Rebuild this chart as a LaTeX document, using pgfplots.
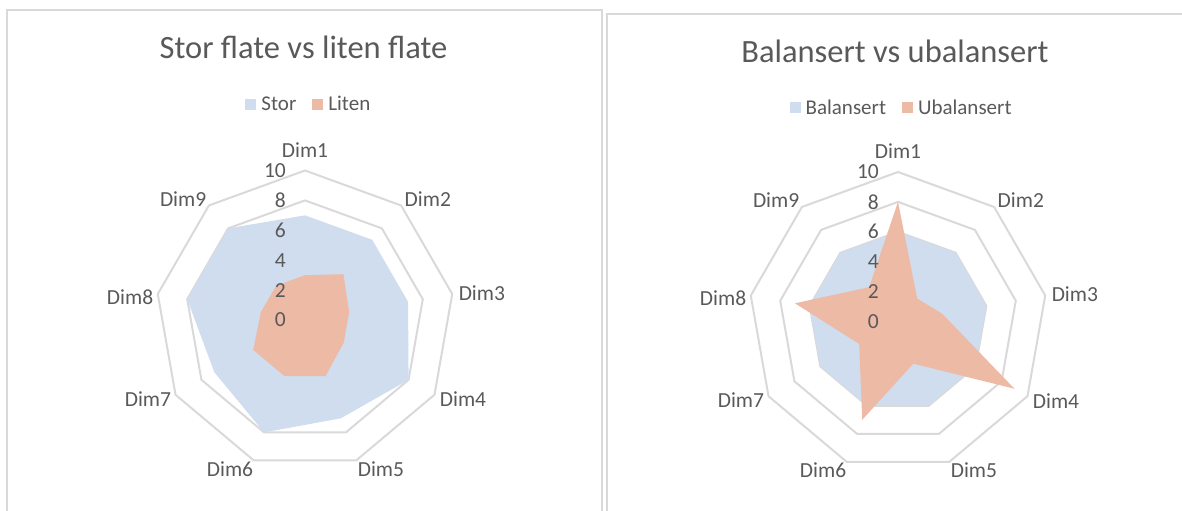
\documentclass[border=0pt]{standalone}
\usepackage{fontspec}
\setmainfont{Carlito}
\usepackage{pgfplots}
\pgfplotsset{compat=1.18}
\usepgfplotslibrary{polar}
\definecolor{gridc}{HTML}{D9D9D9}
\definecolor{txt}{HTML}{595959}
\definecolor{bl}{RGB}{207,221,238}
\definecolor{orc}{RGB}{237,186,166}

\pgfplotsset{radar/.style={
  scale only axis, width=299bp, height=299bp,
  xmin=0, xmax=360, ymin=0, ymax=10,
  hide axis, clip=false,
  legend columns=-1,
  legend image code/.code={\fill[##1] (0bp,-5.5bp) rectangle (11bp,5.5bp);},
  legend style={draw=none, fill=none, text=txt, font=\fontsize{21bp}{25bp}\selectfont, anchor=center,
    nodes={inner sep=2bp},
    /tikz/every odd column/.append style={column sep=3bp},
    /tikz/every even column/.append style={column sep=14bp}},
}}
\tikzset{
  lab/.style={text=txt, font=\fontsize{21.5bp}{25bp}\selectfont, inner sep=0pt, anchor=center},
  tk/.style={text=txt, font=\fontsize{21.5bp}{25bp}\selectfont, inner sep=0pt, anchor=east},
}
\newcommand\radargrid{%
 \addplot[forget plot, draw=gridc, line width=2bp] coordinates {(90,10) (50,10) (10,10) (330,10) (290,10) (250,10) (210,10) (170,10) (130,10)} -- cycle;
 \addplot[forget plot, draw=gridc, line width=2bp] coordinates {(90,8) (50,8) (10,8) (330,8) (290,8) (250,8) (210,8) (170,8) (130,8)} -- cycle;
 \addplot[forget plot, draw=gridc, line width=2bp] coordinates {(90,6) (50,6) (10,6) (330,6) (290,6) (250,6) (210,6) (170,6) (130,6)} -- cycle;
 \addplot[forget plot, draw=gridc, line width=2bp] coordinates {(90,4) (50,4) (10,4) (330,4) (290,4) (250,4) (210,4) (170,4) (130,4)} -- cycle;
 \addplot[forget plot, draw=gridc, line width=2bp] coordinates {(90,2) (50,2) (10,2) (330,2) (290,2) (250,2) (210,2) (170,2) (130,2)} -- cycle;
}
\newcommand\radarlabels{%
 \node[lab] at (axis cs:90,11.37) {Dim1};
 \node[lab] at (axis cs:44.6,11.54) {Dim2};
 \node[lab] at (axis cs:8.7,11.97) {Dim3};
 \node[lab] at (axis cs:-26.6,11.82) {Dim4};
 \node[lab] at (axis cs:-63,11.19) {Dim5};
 \node[lab] at (axis cs:-116.7,11.16) {Dim6};
 \node[lab] at (axis cs:-153.3,11.76) {Dim7};
 \node[lab] at (axis cs:172.5,11.8) {Dim8};
 \node[lab] at (axis cs:135.2,11.49) {Dim9};
 \node[tk] at ([xshift=-19bp]axis cs:90,10) {10};
 \node[tk] at ([xshift=-19bp]axis cs:90,8) {8};
 \node[tk] at ([xshift=-19bp]axis cs:90,6) {6};
 \node[tk] at ([xshift=-19bp]axis cs:90,4) {4};
 \node[tk] at ([xshift=-19bp]axis cs:90,2) {2};
 \node[tk] at ([xshift=-19bp]axis cs:90,0) {0};
}

\begin{document}
\begin{tikzpicture}
\path[use as bounding box] (0,0) rectangle (1182bp,511bp);
\begin{scope}
\clip (0,0) rectangle (1182bp,511bp);
\draw[gridc, line width=2bp] (7bp,-10bp) rectangle (602.3bp,500.7bp);
\draw[gridc, line width=2bp] (606.7bp,-10bp) rectangle (1195bp,497.3bp);
\end{scope}

\node[anchor=base, text=txt, font=\fontsize{32.5bp}{38bp}\selectfont, inner sep=0pt] at (303.5bp,452.2bp) {Stor flate vs liten flate};
\node[anchor=base, text=txt, font=\fontsize{32.5bp}{38bp}\selectfont, inner sep=0pt] at (895bp,448.8bp) {Balansert vs ubalansert};

\begin{polaraxis}[radar, at={(305bp,191bp)}, anchor=center,
  legend style={at={(0.513,1.221)}}]
\radargrid
\addplot[fill=bl, draw=none] coordinates {(90,7) (50,7) (10,7) (330,8) (290,7) (250,8) (210,7) (170,8) (130,8)} -- cycle;
\addlegendentry{Stor}
\addplot[fill=orc, draw=none] coordinates {(90,3) (50,4) (10,3) (330,3) (290,4) (250,4) (210,4) (170,3) (130,3)} -- cycle;
\addlegendentry{Liten}
\radarlabels
\end{polaraxis}

\begin{polaraxis}[radar, at={(898bp,189.5bp)}, anchor=center,
  legend style={at={(0.512,1.215)}}]
\radargrid
\addplot[fill=bl, draw=none] coordinates {(90,6) (50,6) (10,6) (330,6) (290,6) (250,6) (210,6) (170,6) (130,6)} -- cycle;
\addlegendentry{Balansert}
\addplot[fill=orc, draw=none] coordinates {(90,8) (50,2) (10,3) (330,9) (290,3) (250,7) (210,3) (170,7) (130,3)} -- cycle;
\addlegendentry{Ubalansert}
\radarlabels
\end{polaraxis}
\end{tikzpicture}
\end{document}
